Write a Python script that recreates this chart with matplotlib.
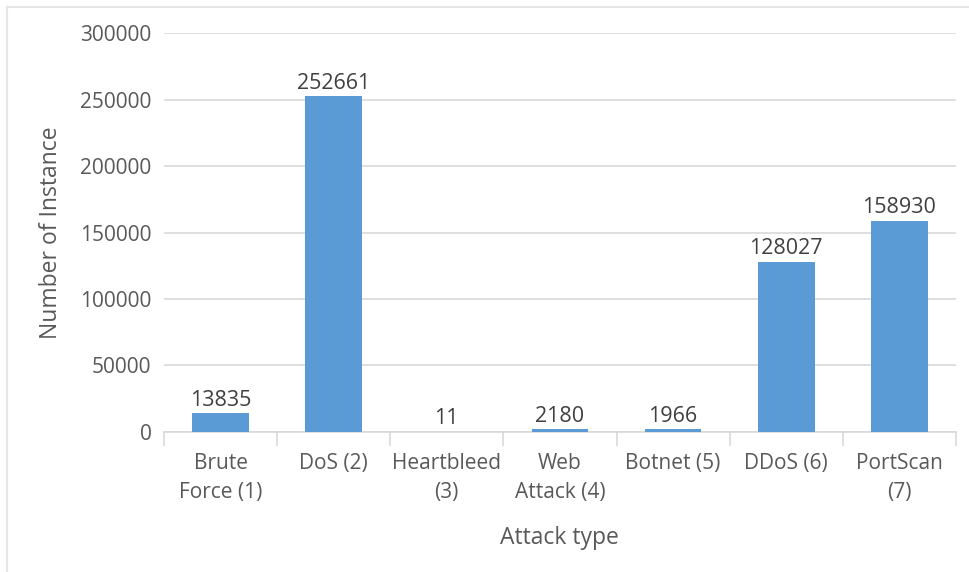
import matplotlib.pyplot as plt
from matplotlib.lines import Line2D
import numpy as np

plt.rcParams["font.family"] = ["Open Sans", "DejaVu Sans"]

# attack categories and instance counts
categories = ["Brute\nForce (1)", "DoS (2)", "Heartbleed\n(3)", "Web\nAttack (4)",
              "Botnet (5)", "DDoS (6)", "PortScan\n(7)"]
counts = [13835, 252661, 11, 2180, 1966, 128027, 158930]
yticks = [0, 50000, 100000, 150000, 200000, 250000, 300000]

bar_color = "#5B9BD5"
text_color = "#595959"
grid_color = "#D9D9D9"

fig = plt.figure(figsize=(9.7, 5.72), dpi=100)
ax = fig.add_axes([0.169, 0.245, 0.8165, 0.697])

x = np.arange(len(categories))
bars = ax.bar(x, counts, width=0.5, color=bar_color, zorder=3)

for xi, v in zip(x, counts):
    ax.text(xi, v + 1800, str(v), ha="center", va="bottom",
            fontsize=15.5, color="#404040")

ax.set_xlim(-0.5, len(categories) - 0.5)
ax.set_ylim(0, 300000)
ax.set_yticks(yticks)
ax.set_yticklabels([str(t) for t in yticks])
ax.grid(True, axis="y", color=grid_color, linewidth=1.2, zorder=0)

# category separators on the x axis
ax.set_xticks(np.arange(-0.5, len(categories), 1.0))
ax.set_xticklabels([])
ax.set_xticks(x, minor=True)
ax.set_xticklabels(categories, minor=True, fontsize=15, color=text_color,
                   linespacing=1.5)
ax.tick_params(axis="x", which="major", length=10, width=1.2, color=grid_color)
ax.tick_params(axis="x", which="minor", length=0, pad=15)
ax.tick_params(axis="y", length=0, labelsize=15, labelcolor=text_color, pad=9)

for side in ["top", "right", "left"]:
    ax.spines[side].set_visible(False)
ax.spines["bottom"].set_color(grid_color)
ax.spines["bottom"].set_linewidth(1.2)

ax.set_ylabel("Number of Instance", fontsize=16.5, color=text_color, labelpad=12)
ax.set_xlabel("Attack type", fontsize=16.5, color=text_color, labelpad=17)

# light frame around the chart area
fig.add_artist(Line2D([0.0075, 0.0075], [0.0, 0.988], transform=fig.transFigure,
                      color="#E6E6E6", linewidth=1.5))
fig.add_artist(Line2D([0.0075, 1.0], [0.988, 0.988], transform=fig.transFigure,
                      color="#E6E6E6", linewidth=1.5))

fig.savefig("out.png", dpi=100)
